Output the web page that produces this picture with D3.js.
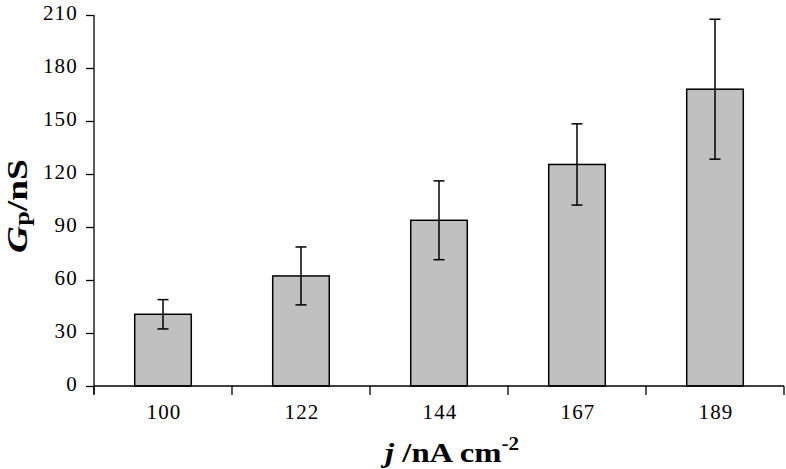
<!DOCTYPE html>
<meta charset="utf-8">
<title>Gp vs j</title>

<style>
body{
	margin: 0;
	background: white;
}
svg text{
	font-family: 'Liberation Serif', 'Times New Roman', 'DejaVu Serif', serif !important;
}
</style>

<body>

<script src="https://d3js.org/d3.v7.min.js"></script>

<script>

// values
var categories = ['100', '122', '144', '167', '189'];
var values = [40.6, 62.3, 93.8, 125.4, 168];
var errors = [8.3, 16.4, 22.3, 23, 39.6];
var yticks = [0, 30, 60, 90, 120, 150, 180, 210];

var serif = "'Liberation Serif', 'Times New Roman', 'DejaVu Serif', serif";

var width = 786;
var height = 469;
var margin = {top: 15, right: 2, bottom: 83, left: 94};

var svg = d3.select('body')
	.append('svg')
	.attr('width', width)
	.attr('height', height)
	.attr('font-family', serif);

var x = d3.scaleBand()
	.domain(categories)
	.range([margin.left, width - margin.right])
	.padding(0);

var y = d3.scaleLinear()
	.domain([0, 210])
	.range([height - margin.bottom, margin.top]);

var barwidth = x.bandwidth() * 0.41;

var data = categories.map(function(c, i){
	return {cat: c, val: values[i], err: errors[i]};
});

// bars
svg.append('g')
	.selectAll('rect')
	.data(data)
	.enter()
	.append('rect')
	.attr('x', function(d){ return x(d.cat) + x.bandwidth() / 2 - barwidth / 2; })
	.attr('y', function(d){ return y(d.val); })
	.attr('width', barwidth)
	.attr('height', function(d){ return y(0) - y(d.val); })
	.attr('fill', '#c0c0c0')
	.attr('stroke', 'black')
	.attr('stroke-width', 1.5);

// error bars
var eb = svg.append('g')
	.selectAll('g')
	.data(data)
	.enter()
	.append('g')
	.attr('stroke', 'black')
	.attr('stroke-width', 1.5);

eb.append('line')
	.attr('x1', function(d){ return x(d.cat) + x.bandwidth() / 2; })
	.attr('x2', function(d){ return x(d.cat) + x.bandwidth() / 2; })
	.attr('y1', function(d){ return y(d.val + d.err); })
	.attr('y2', function(d){ return y(d.val - d.err); });

[1, -1].forEach(function(s){
	eb.append('line')
		.attr('x1', function(d){ return x(d.cat) + x.bandwidth() / 2 - 5.5; })
		.attr('x2', function(d){ return x(d.cat) + x.bandwidth() / 2 + 5.5; })
		.attr('y1', function(d){ return y(d.val + s * d.err); })
		.attr('y2', function(d){ return y(d.val + s * d.err); });
});

// y axis
var yaxis = svg.append('g')
	.attr('transform', 'translate(' + margin.left + ',0)')
	.call(d3.axisLeft(y).tickValues(yticks).tickSize(8).tickPadding(8).tickSizeOuter(0));

yaxis.attr('font-family', serif).attr('font-size', 21);

yaxis.select('.domain')
	.attr('d', 'M0,' + y(210) + 'V' + (y(0) + 8));

yaxis.selectAll('text')
	.attr('fill', 'black')
	.attr('dy', '0.2em')
	.attr('letter-spacing', 1.2);

yaxis.selectAll('line, path').attr('stroke', 'black').attr('stroke-width', 1.3);

// x axis, ticks at band edges
var xaxis = svg.append('g')
	.attr('transform', 'translate(0,' + y(0) + ')');

xaxis.append('line')
	.attr('x1', margin.left)
	.attr('x2', width - margin.right)
	.attr('stroke', 'black')
	.attr('stroke-width', 1.5);

var edges = categories.map(function(c){ return x(c); }).concat([x.range()[1]]);

xaxis.selectAll('.edge')
	.data(edges)
	.enter()
	.append('line')
	.attr('class', 'edge')
	.attr('x1', function(d){ return d; })
	.attr('x2', function(d){ return d; })
	.attr('y1', 0)
	.attr('y2', 9)
	.attr('stroke', 'black')
	.attr('stroke-width', 1.3);

xaxis.selectAll('.lbl')
	.data(categories)
	.enter()
	.append('text')
	.attr('class', 'lbl')
	.attr('x', function(d){ return x(d) + x.bandwidth() / 2 + 1; })
	.attr('y', 33)
	.attr('text-anchor', 'middle')
	.attr('font-size', 21)
	.attr('letter-spacing', 1.2)
	.text(function(d){ return d; });

// axis titles
var xt = svg.append('text')
	.attr('transform', 'translate(452,462) scale(1.17,1)')
	.attr('text-anchor', 'middle')
	.attr('font-size', 28)
	.attr('font-weight', 'bold');
xt.append('tspan').attr('font-style', 'italic').text('j');
xt.append('tspan').text(' /nA cm');
xt.append('tspan').attr('font-size', 18).attr('dy', -12).text('-2');

var yt = svg.append('text')
	.attr('transform', 'translate(27,206) rotate(-90) scale(1.25,1)')
	.attr('text-anchor', 'middle')
	.attr('font-size', 30)
	.attr('font-weight', 'bold');
yt.append('tspan').attr('font-style', 'italic').text('G');
yt.append('tspan').attr('font-size', 21).attr('dy', 2).text('p');
yt.append('tspan').attr('dy', -2).text('/nS');

</script>
</body>
